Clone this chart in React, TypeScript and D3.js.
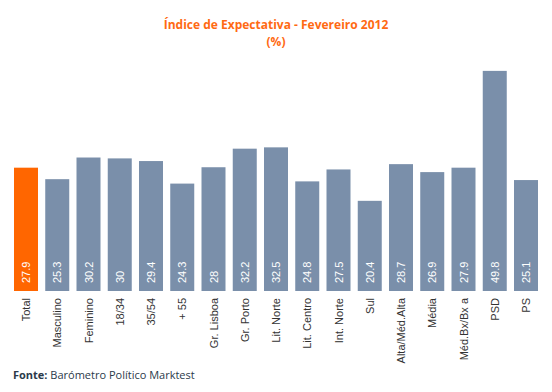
import { useEffect, useRef } from 'react';
import * as d3 from 'd3';

const categories = ['Total', 'Masculino', 'Feminino', '18/34', '35/54', '+ 55', 'Gr. Lisboa', 'Gr. Porto', 'Lit. Norte', 'Lit. Centro', 'Int. Norte', 'Sul', 'Alta/Méd.Alta', 'Média', 'Méd.Bx/Bx a', 'PSD', 'PS'];
const values = [27.9, 25.3, 30.2, 30, 29.4, 24.3, 28, 32.2, 32.5, 24.8, 27.5, 20.4, 28.7, 26.9, 27.9, 49.8, 25.1];
const yDomain = [0, 50];

const App = () => {
  const svgRef = useRef<SVGSVGElement>(null);

  useEffect(() => {
    const svg = d3.select(svgRef.current);
    svg.selectAll('*').remove();

    const width = 552;
    const height = 392;
    const bottom = 291;
    const top = 70;

    svg.attr('width', width).attr('height', height);

    const x = d3.scaleBand()
      .domain(categories)
      .range([14, 538])
      .paddingInner(0.232)
      .paddingOuter(0);

    const y = d3.scaleLinear().domain(yDomain).range([bottom, top]);

    // Title
    svg.append('text')
      .attr('x', 276)
      .attr('y', 29)
      .attr('text-anchor', 'middle')
      .style('font-family', 'Open Sans, sans-serif')
      .style('font-size', '12px')
      .style('font-weight', 'bold')
      .style('fill', '#ff6a13')
      .text('Índice de Expectativa - Fevereiro 2012');

    svg.append('text')
      .attr('x', 276)
      .attr('y', 46)
      .attr('text-anchor', 'middle')
      .style('font-family', 'Open Sans, sans-serif')
      .style('font-size', '12px')
      .style('font-weight', 'bold')
      .style('fill', '#ff6a13')
      .text('(%)');

    // Bars
    categories.forEach((cat, i) => {
      const bx = x(cat)!;
      svg.append('rect')
        .attr('x', bx)
        .attr('y', y(values[i]))
        .attr('width', x.bandwidth())
        .attr('height', bottom - y(values[i]))
        .attr('fill', i === 0 ? '#ff6600' : '#7a8faa');

      const cx = bx + x.bandwidth() / 2;
      svg.append('text')
        .attr('transform', `translate(${cx + 4},${bottom - 8}) rotate(-90)`)
        .attr('text-anchor', 'start')
        .style('font-family', 'Liberation Sans, Arial, sans-serif')
        .style('font-size', '11px')
        .style('fill', '#ffffff')
        .text(String(values[i]));

      svg.append('text')
        .attr('transform', `translate(${cx + 4},${bottom + 7}) rotate(-90)`)
        .attr('text-anchor', 'end')
        .style('font-family', 'Liberation Sans, Arial, sans-serif')
        .style('font-size', '11px')
        .style('fill', '#333333')
        .text(cat);
    });

    // Footer
    const foot = svg.append('text')
      .attr('x', 13)
      .attr('y', 379)
      .style('font-family', 'Open Sans, sans-serif')
      .style('font-size', '11px')
      .style('fill', '#2b3a4a');
    foot.append('tspan').style('font-weight', 'bold').text('Fonte:');
    foot.append('tspan').text(' Barómetro Político Marktest');
  }, []);

  return (
    <div style={{ position: 'absolute', left: 0, top: 0 }}>
      <svg ref={svgRef}></svg>
    </div>
  );
};

export default App;
